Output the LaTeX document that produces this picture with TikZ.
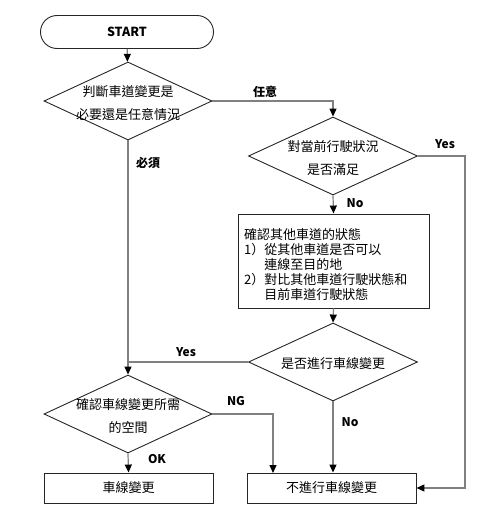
\documentclass[tikz,border=0pt]{standalone}
\usepackage{fontspec}
\setmainfont{Noto Sans CJK TC}
\usetikzlibrary{shapes.geometric,shapes.misc,arrows.meta}
\begin{document}
\begin{tikzpicture}[x=1pt,y=-1pt,
  font=\fontsize{13}{15}\selectfont,
  shapeline/.style={draw=black!85,line width=0.9pt},
  dia/.style={shapeline,diamond,minimum width=168pt,minimum height=78pt,inner sep=0pt},
  boxn/.style={shapeline,rectangle,minimum width=169pt,minimum height=30pt,inner sep=0pt},
  conn/.style={draw=black!50,line width=1.2pt},
  arr/.style={conn,-{Triangle[length=8pt,width=7pt,color=black]}},
  lbl/.style={font=\fontsize{12}{14}\selectfont\bfseries,inner sep=0pt},
  two/.style={align=center,yshift=-2pt,font=\fontsize{13}{23.5}\selectfont}
]
\useasboundingbox (0,0) rectangle (500,514);

\node[shapeline,rounded rectangle,minimum width=173pt,minimum height=33pt,inner sep=0pt,font=\fontsize{12.5}{15}\selectfont\bfseries] (start) at (127,32) {START};

\node[dia,label={[two]center:判斷車道變更是\\必要還是任意情況}] (d1) at (128,101) {};
\node[dia,minimum width=169pt,label={[two]center:對當前行駛狀況\\是否滿足}] (d2) at (333,156) {};
\node[shapeline,rectangle,minimum width=191pt,minimum height=94pt,inner sep=0pt] (b3) at (333.5,261) {};
\node[inner sep=0pt,anchor=north west,align=left,font=\fontsize{13}{15}\selectfont] (t3) at (244,228) {確認其他車道的狀態\\1）從其他車道是否可以\\\phantom{1）}連線至目的地\\2）對比其他車道行駛狀態和\\\phantom{2）}目前車道行駛狀態};
\node[dia,minimum width=169pt,label={[two]center:是否進行車線變更}] (d3) at (333,362) {};
\node[dia,label={[two]center:確認車線變更所需\\的空間}] (d4) at (128,414) {};
\node[boxn] (b1) at (128.5,488) {車線變更};
\node[boxn] (b2) at (331.5,488) {不進行車線變更};

\coordinate (rc) at (465,156);
\coordinate (ng) at (273,473);

\draw[arr] (start) -- (d1);
\draw[arr] (d1.east) -| (d2.north);
\draw[arr] (d2.south) -- (b3.north);
\draw[arr] (d2.east) -- (rc) |- (b2.east);
\draw[arr] (b3.south) -- (d3.north);
\draw[arr] (d1.south) -- (d4.north);
\draw[conn] (d3.west) -- (d1.south |- d3.west);
\draw[arr] (d3.south) -- (d3.south |- b2.north);
\draw[arr] (d4.east) -| (ng);
\draw[arr] (d4.south) -- (b1.north);

\node[lbl] (l1) at (265,92) {任意};
\node[lbl] (l2) at (148,163) {必須};
\node[lbl] (l3) at (445,144) {Yes};
\node[lbl] (l4) at (355,203) {No};
\node[lbl] (l5) at (186,352) {Yes};
\node[lbl] (l6) at (236,401) {NG};
\node[lbl] (l7) at (157,459) {OK};
\node[lbl] (l8) at (350,422) {No};
\end{tikzpicture}
\end{document}
